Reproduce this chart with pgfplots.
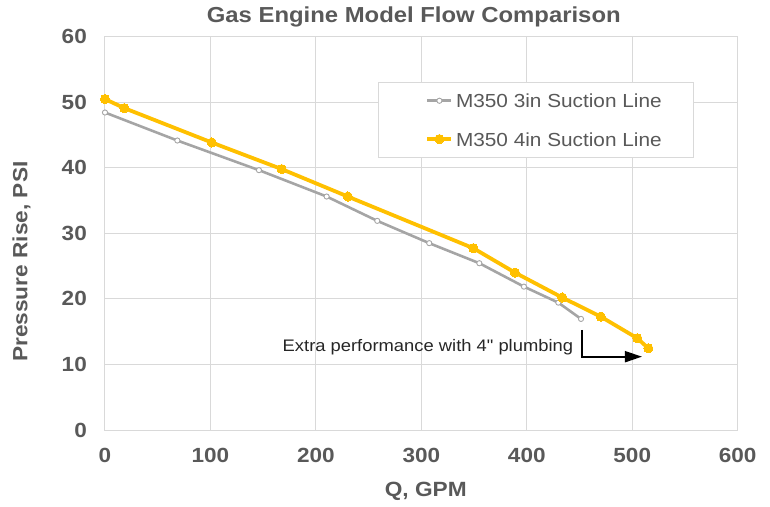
\documentclass[border=0pt]{standalone}
\usepackage{fontspec}
\setmainfont{Liberation Sans}[FakeStretch=1.1]
\newfontfamily\plainfont{Liberation Sans}[FakeStretch=1.1]
\usepackage{pgfplots}
\pgfplotsset{compat=1.18}
\usetikzlibrary{arrows.meta}

\definecolor{txtgray}{RGB}{89,89,89}
\definecolor{gridgray}{RGB}{217,217,217}
\definecolor{s3in}{RGB}{165,165,165}
\definecolor{s4in}{RGB}{255,192,0}

\begin{document}
\begin{tikzpicture}
\begin{axis}[
    scale only axis,
    width=632.7pt, height=393.5pt,
    xmin=0, xmax=600, ymin=0, ymax=60,
    xtick={0,100,...,600}, ytick={0,10,...,60},
    grid=major,
    major grid style={gridgray, line width=1pt},
    axis line style={gridgray, line width=1pt},
    major tick length=0pt,
    /pgf/number format/assume math mode=true,
    ticklabel style={font=\fontsize{20.5}{24}\selectfont\bfseries, text=txtgray, inner sep=0pt},
    yticklabel style={anchor=east, xshift=-18pt},
    xticklabel style={anchor=north, yshift=-17.5pt},
    title={Gas Engine Model Flow Comparison},
    title style={at={(axis description cs:0.488,1.0343)}, anchor=center,
        font=\fontsize{21.7}{26}\selectfont\bfseries, text=txtgray},
    xlabel={Q, GPM},
    xlabel style={at={(axis description cs:0.507,-0.1568)}, anchor=center,
        font=\fontsize{20.6}{24}\selectfont\bfseries, text=txtgray},
    ylabel={Pressure Rise, PSI},
    ylabel style={at={(axis description cs:-0.132,0.428)}, anchor=center,
        font=\fontsize{20.6}{24}\selectfont\bfseries, text=txtgray},
    legend style={at={(axis description cs:0.4315,0.885)}, anchor=north west,
        draw=gridgray, line width=1pt, fill=white,
        font=\fontsize{18.9}{22}\selectfont, text=txtgray,
        inner xsep=0pt, inner ysep=11.5pt, row sep=24.3pt,
        nodes={inner sep=0pt, text height=14pt, text depth=0pt}},
    legend cell align=left,
    legend image code/.code={
        \path (-47pt,0pt);
        \draw[mark repeat=2, mark phase=2] plot coordinates {(0pt,0pt) (12pt,0pt) (24pt,0pt)};
        \path (26.7pt,0pt);
    },
]
\addplot[s3in, line width=2.6pt, mark=*, mark size=2.6pt,
    mark options={fill=white, draw=s3in, line width=0.9pt}] coordinates {
    (0,48.41) (68.6,44.14) (146,39.62) (210.2,35.6) (258.2,31.89)
    (307.5,28.49) (355,25.43) (397.3,21.86) (429.9,19.42) (451.4,16.94)
};
\addlegendentry{M350 3in Suction Line\hspace*{32pt}}
\addplot[s4in, line width=3.8pt, mark=*, mark size=4.6pt,
    mark options={fill=s4in, draw=s4in, line width=0pt}] coordinates {
    (0,50.46) (18.3,49.08) (101.2,43.84) (167.6,39.78) (230.2,35.6)
    (349.3,27.72) (388.8,24.0) (433.7,20.19) (470.1,17.29) (504.8,13.99)
    (515.2,12.47)
};
\addlegendentry{M350 4in Suction Line\hspace*{32pt}}

\node[anchor=base east, inner sep=0pt, text={rgb,255:red,38;green,38;blue,38},
    font=\plainfont\fontsize{16.7}{20}\selectfont]
    at (axis cs:444.1,11.95) {Extra performance with 4" plumbing};
\draw[black, line width=2pt, -{Triangle[length=17pt,width=11pt]}]
    (axis cs:452.3,15.26) |- (axis cs:509.2,11.18);
\end{axis}
\pgfresetboundingbox
\path[use as bounding box] (-105pt,-76pt) rectangle (665pt,430pt);
\end{tikzpicture}
\end{document}
